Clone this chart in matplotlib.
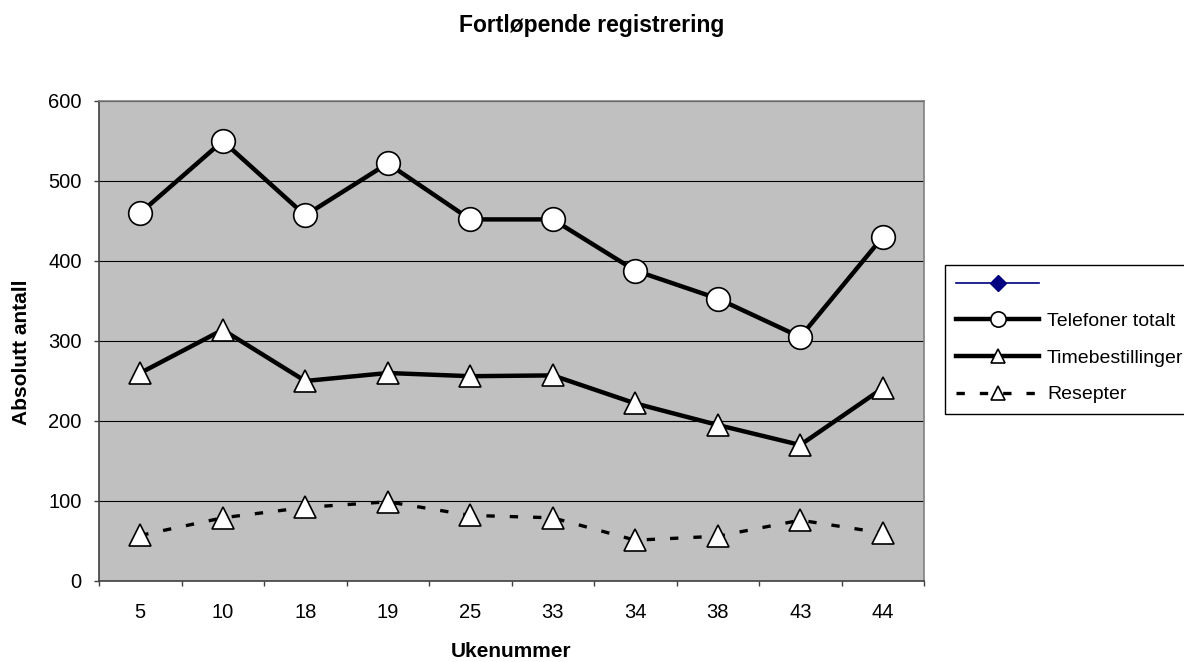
import matplotlib
matplotlib.use("Agg")
import matplotlib.pyplot as plt
from matplotlib.lines import Line2D

plt.rcParams['font.family'] = ['Liberation Sans', 'DejaVu Sans']

weeks = ["5", "10", "18", "19", "25", "33", "34", "38", "43", "44"]
telefoner = [460, 550, 457, 522, 452, 452, 388, 353, 305, 430]
timebestillinger = [260, 314, 250, 260, 256, 257, 222, 195, 170, 241]
resepter = [57, 79, 92, 99, 82, 79, 51, 56, 76, 60]
yticks = [0, 100, 200, 300, 400, 500, 600]
series_labels = ["", "Telefoner totalt", "Timebestillinger", "Resepter"]

fig = plt.figure(figsize=(11.84, 6.62), dpi=100)
ax = fig.add_axes([99/1184, 1-581/662, (924-99)/1184, (581-101)/662])
ax.set_facecolor('#c0c0c0')

x = list(range(len(weeks)))
ax.plot(x, telefoner, color='black', lw=3.2, marker='o', ms=17,
        mfc='white', mec='black', mew=1.2, zorder=4)
ax.plot(x, timebestillinger, color='black', lw=3.2, marker='^', ms=16,
        mfc='white', mec='black', mew=1.2, zorder=4)
ax.plot(x, resepter, color='black', lw=2.4, marker='^', ms=16,
        mfc='white', mec='black', mew=1.2, dashes=(2.5, 4.5), zorder=4)

ax.set_ylim(0, 600)
ax.set_xlim(-0.5, len(weeks) - 0.5)
ax.set_yticks(yticks)
ax.set_yticklabels([str(v) for v in yticks])
ax.yaxis.grid(True, color='black', lw=0.8)
ax.set_axisbelow(True)

ax.set_xticks([i - 0.5 for i in range(len(weeks) + 1)])
ax.set_xticklabels([])
ax.set_xticks(x, minor=True)
ax.set_xticklabels(weeks, minor=True)
ax.tick_params(axis='x', which='minor', length=0, pad=16, labelsize=14.5)
ax.tick_params(axis='x', which='major', length=3.5, width=1, color='#404040', direction='out')
ax.tick_params(axis='y', length=3.5, width=1, color='#404040', direction='out', pad=9, labelsize=14.5)

for s in ['left', 'bottom']:
    ax.spines[s].set_color('#404040')
    ax.spines[s].set_linewidth(1.2)
for s in ['top', 'right']:
    ax.spines[s].set_color('#808080')
    ax.spines[s].set_linewidth(1.2)

fig.text(592/1184, 1-32/662, "Fortløpende registrering", ha='center', va='baseline',
         fontsize=16.5, fontweight='bold')
fig.text(22/1184, 1-352/662, "Absolutt antall", ha='center', va='center',
         rotation=90, fontsize=15, fontweight='bold')
fig.text(511/1184, 1-657/662, "Ukenummer", ha='center', va='baseline',
         fontsize=15, fontweight='bold')

handles = [
    Line2D([], [], color='#000080', lw=1.2, marker='D', ms=8, mfc='#000080', mec='#000080'),
    Line2D([], [], color='black', lw=3.2, marker='o', ms=11, mfc='white', mec='black', mew=1.2),
    Line2D([], [], color='black', lw=3.2, marker='^', ms=10, mfc='white', mec='black', mew=1.2),
    Line2D([], [], color='black', lw=2.4, marker='^', ms=10, mfc='white', mec='black', mew=1.2,
           dashes=(2.5, 4.5)),
]
leg = fig.legend(handles, [s if s else " " for s in series_labels], loc='upper left',
                 bbox_to_anchor=(945/1184, 1-265/662),
                 fontsize=14, frameon=True, fancybox=False, edgecolor='black',
                 handlelength=4.3, handletextpad=0.4, labelspacing=0.98,
                 borderpad=0.55, borderaxespad=0, framealpha=1)
leg.get_frame().set_linewidth(1.0)

fig.savefig("out.png", dpi=100)
